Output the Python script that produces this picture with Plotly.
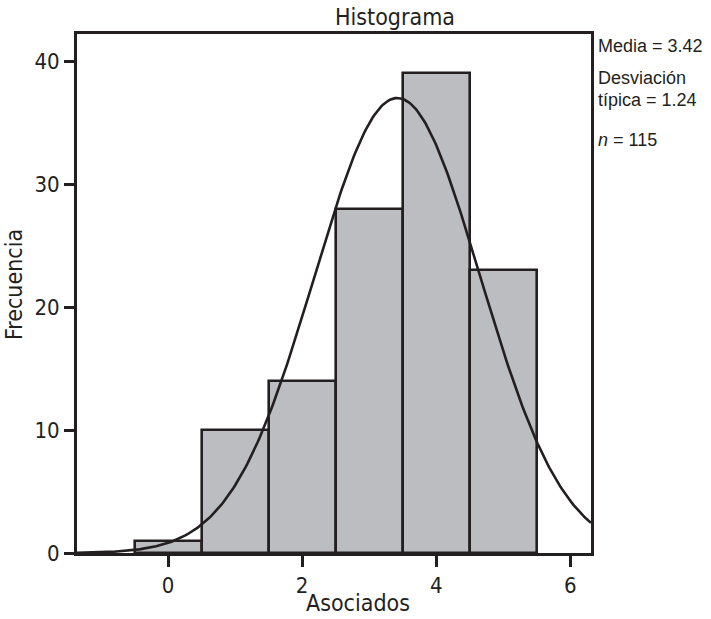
import numpy as np
import plotly.graph_objects as go

# Data
categories = [0, 1, 2, 3, 4, 5]          # Asociados (bin centres)
frequencies = [1, 10, 14, 28, 39, 23]    # Frecuencia
x_tick_vals = [0, 2, 4, 6]
y_tick_vals = [0, 10, 20, 30, 40]
MEAN = 3.42
SD = 1.24
N = 115
BIN_WIDTH = 1.0

X_RANGE = [-1.36, 6.31]
Y_RANGE = [0, 42.2]

# Normal curve scaled to counts (from the stated statistics)
xs = np.linspace(X_RANGE[0], X_RANGE[1], 300)
ys = N * BIN_WIDTH / (SD * np.sqrt(2 * np.pi)) * np.exp(-0.5 * ((xs - MEAN) / SD) ** 2)

COND = "Liberation Sans Narrow, DejaVu Sans Condensed, Roboto Condensed, Arial Narrow, sans-serif"
SANS = "Liberation Sans, Arial, Helvetica, sans-serif"
INK = "#231f20"

W, H = 711, 619
L, R, T, B = 77, 591, 34, 553   # plot area in pixels


def ax_x(p):
    return (p - L) / (R - L)


def ax_y(p):
    return (B - p) / (B - T)


fig = go.Figure()
fig.add_trace(go.Bar(
    x=categories, y=frequencies, width=BIN_WIDTH,
    marker=dict(color="#bcbdc1", line=dict(color=INK, width=2.6)),
    showlegend=False, hoverinfo="x+y",
))
fig.add_trace(go.Scatter(
    x=xs, y=ys, mode="lines",
    line=dict(color=INK, width=2.6),
    showlegend=False, hoverinfo="skip",
))

ann_font = dict(family=SANS, size=18, color=INK)
cond_font = dict(family=COND, size=23, color=INK)
fig.update_layout(
    width=W, height=H,
    margin=dict(l=L, r=W - R, t=T, b=H - B, autoexpand=False),
    paper_bgcolor="white", plot_bgcolor="white",
    bargap=0,
    xaxis=dict(range=X_RANGE, tickvals=x_tick_vals, automargin=False,
               showgrid=False, zeroline=False,
               showline=True, linecolor=INK, linewidth=2.8, mirror=True,
               ticks="outside", ticklen=11, tickwidth=2.8, tickcolor=INK,
               tickfont=dict(family=COND, size=22, color=INK)),
    yaxis=dict(range=Y_RANGE, tickvals=y_tick_vals, automargin=False,
               showgrid=False, zeroline=False,
               showline=True, linecolor=INK, linewidth=2.8, mirror=True,
               ticks="outside", ticklen=10, tickwidth=2.8, tickcolor=INK,
               tickfont=dict(family=COND, size=22, color=INK)),
    annotations=[
        dict(text="Histograma", xref="paper", yref="paper",
             x=ax_x(395), y=ax_y(17), xanchor="center", yanchor="middle",
             showarrow=False, font=cond_font),
        dict(text="Asociados", xref="paper", yref="paper",
             x=ax_x(358), y=ax_y(603), xanchor="center", yanchor="middle",
             showarrow=False, font=cond_font),
        dict(text="Frecuencia", xref="paper", yref="paper",
             x=ax_x(14), y=ax_y(285), textangle=-90,
             xanchor="center", yanchor="middle", showarrow=False, font=cond_font),
        dict(text="Media = 3.42", xref="paper", yref="paper",
             x=ax_x(596), y=ax_y(46), xanchor="left", yanchor="middle",
             showarrow=False, font=ann_font),
        dict(text="Desviación", xref="paper", yref="paper",
             x=ax_x(596), y=ax_y(78), xanchor="left", yanchor="middle",
             showarrow=False, font=ann_font),
        dict(text="típica = 1.24", xref="paper", yref="paper",
             x=ax_x(596), y=ax_y(100), xanchor="left", yanchor="middle",
             showarrow=False, font=ann_font),
        dict(text="<i>n</i> = 115", xref="paper", yref="paper",
             x=ax_x(596), y=ax_y(140), xanchor="left", yanchor="middle",
             showarrow=False, font=ann_font),
    ],
)

fig.write_html("out.html", config={"displayModeBar": False},
               post_script="document.body.style.margin='0';")
